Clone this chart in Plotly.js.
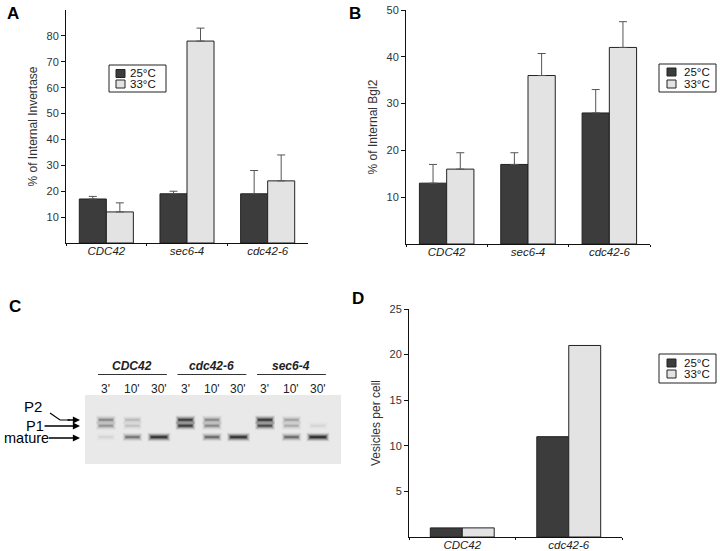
<!DOCTYPE html>
<html>
<head>
<meta charset="utf-8">
<script src="https://cdn.plot.ly/plotly-3.0.1.min.js"></script>
<style>html,body{margin:0;padding:0;background:#fff;}#chart{width:720px;height:551px;}</style>
</head>
<body>
<div id="chart"></div>
<script>
// ---------- DATA ----------
const tempLabels = ['25°C', '33°C'];

// Panel A: % of internal invertase
const aStrains = ['CDC42', 'sec6-4', 'cdc42-6'];
const aMean25 = [17, 19, 19];
const aErr25 = [1, 1, 9];
const aMean33 = [12, 78, 24];
const aErr33 = [3.5, 5, 10];
const aTicks = [10, 20, 30, 40, 50, 60, 70, 80];

// Panel B: % of internal Bgl2
const bStrains = ['CDC42', 'sec6-4', 'cdc42-6'];
const bMean25 = [13, 17, 28];
const bErr25 = [4, 2.5, 5];
const bMean33 = [16, 36, 42];
const bErr33 = [3.5, 4.7, 5.5];
const bTicks = [10, 20, 30, 40, 50];

// Panel D: vesicles per cell
const dStrains = ['CDC42', 'cdc42-6'];
const dMean25 = [1, 11];
const dMean33 = [1, 21];
const dTicks = [5, 10, 15, 20, 25];

// Panel C: gel (pulse-chase), lanes and band intensities (0..1)
const gelStrains = ['CDC42', 'cdc42-6', 'sec6-4'];
const laneTimes = ["3'", "10'", "30'", "3'", "10'", "30'", "3'", "10'", "30'"];
const bandNames = ['P2', 'P1', 'mature'];
const bandMigration = [0.36, 0.445, 0.61];   // relative position down the gel
const p2Intensity = [0.35, 0.15, 0.0, 0.80, 0.35, 0.0, 0.85, 0.25, 0.0];
const p1Intensity = [0.30, 0.12, 0.0, 0.80, 0.35, 0.0, 0.70, 0.20, 0.06];
const matureIntensity = [0.06, 0.45, 0.90, 0.0, 0.50, 0.90, 0.0, 0.50, 0.95];

// ---------- STYLE ----------
const FONT = 'Liberation Sans, Arial, Helvetica, sans-serif';
const DARK = '#3c3c3c';
const LIGHT = '#e3e3e3';
const W = 720, H = 551;
const px = x => x / W;
const py = y => 1 - y / H;

function barTrace(xs, ys, errs, color, xa, ya, name, groupWidth) {
  const t = {
    type: 'bar', x: xs, y: ys, name: name, xaxis: xa, yaxis: ya, showlegend: false,
    marker: {color: color, line: {color: '#222', width: 1}},
    width: groupWidth / 2, offset: color === DARK ? -groupWidth / 2 : 0,
    hoverinfo: 'x+y'
  };
  if (errs) {
    t.error_y = {type: 'data', symmetric: false, array: errs, arrayminus: errs.map(() => 0),
                 color: '#555', thickness: 1, width: 4};
  }
  return t;
}

const traces = [
  barTrace(aStrains, aMean25, aErr25, DARK, 'x', 'y', tempLabels[0], 0.67),
  barTrace(aStrains, aMean33, aErr33, LIGHT, 'x', 'y', tempLabels[1], 0.67),
  barTrace(bStrains, bMean25, bErr25, DARK, 'x2', 'y2', tempLabels[0], 0.67),
  barTrace(bStrains, bMean33, bErr33, LIGHT, 'x2', 'y2', tempLabels[1], 0.67),
  barTrace(dStrains, dMean25, null, DARK, 'x3', 'y3', tempLabels[0], 0.60),
  barTrace(dStrains, dMean33, null, LIGHT, 'x3', 'y3', tempLabels[1], 0.60)
];

// gel bands (soft edges built from stacked translucent strokes)
const intensities = [p2Intensity, p1Intensity, matureIntensity];
const blurLayers = [
  {w: 9, a: 0.05, h: 1.15}, {w: 7.5, a: 0.08, h: 1.08}, {w: 6, a: 0.12, h: 1.0},
  {w: 4.5, a: 0.18, h: 0.92}, {w: 3, a: 0.28, h: 0.85}, {w: 1.6, a: 0.40, h: 0.78}
];
intensities.forEach((arr, b) => {
  arr.forEach((v, lane) => {
    if (v <= 0) return;
    const half = b === 2 && laneTimes[lane] === "30'" ? 0.38 : 0.33;
    blurLayers.forEach(L => {
      traces.push({
        type: 'scatter', mode: 'lines', xaxis: 'x4', yaxis: 'y4', showlegend: false,
        hoverinfo: 'skip', name: bandNames[b],
        x: [lane - half * L.h, lane + half * L.h], y: [bandMigration[b], bandMigration[b]],
        line: {color: 'rgba(0,0,0,' + Math.min(1, v * L.a * 1.25).toFixed(3) + ')', width: L.w}
      });
    });
  });
});

function yAxis(domain, range, ticks, title, anchor) {
  return {
    domain: domain, range: range, tickvals: ticks, anchor: anchor, showgrid: false, zeroline: false,
    showline: true, linecolor: '#111', linewidth: 1, ticks: 'outside', ticklen: 4,
    tickcolor: '#111', tickfont: {family: FONT, size: 11, color: '#333'},
    title: {text: title, font: {family: FONT, size: 12, color: '#333'}, standoff: 6},
    fixedrange: true
  };
}
function xAxis(domain, n, anchor) {
  return {
    domain: domain, anchor: anchor, type: 'category', range: [-0.5, n - 0.5],
    showline: true, linecolor: '#111', linewidth: 1, ticks: 'outside', ticklen: 2,
    tickcolor: '#111', tickson: 'boundaries', showgrid: false, ticklabelstandoff: -3,
    tickfont: {family: FONT, size: 11.5, color: '#222', style: 'italic'}, fixedrange: true
  };
}

const shapes = [];
const annotations = [];
function note(o) {
  annotations.push(Object.assign({xref: 'paper', yref: 'paper', xanchor: 'center', yanchor: 'middle',
                                  showarrow: false}, o));
}

// manual legends
function legendBox(x0, y0, w, h, sx, tx, rows) {
  shapes.push({type: 'rect', xref: 'paper', yref: 'paper', x0: px(x0), x1: px(x0 + w),
               y0: py(y0 + h), y1: py(y0), line: {color: '#222', width: 1}, fillcolor: 'white'});
  const colors = [DARK, LIGHT];
  rows.forEach((ry, i) => {
    shapes.push({type: 'rect', xref: 'paper', yref: 'paper', x0: px(x0 + sx), x1: px(x0 + sx + 9),
                 y0: py(y0 + ry + 4), y1: py(y0 + ry - 4), line: {color: '#222', width: 1},
                 fillcolor: colors[i]});
    note({x: px(x0 + tx), y: py(y0 + ry), xanchor: 'left', text: tempLabels[i],
          font: {family: FONT, size: 11.5, color: '#111'}});
  });
}
legendBox(109, 65, 57, 27, 7, 19, [8.5, 19]);
legendBox(659, 64, 57, 28, 8, 23, [8, 20]);
legendBox(659, 354, 57, 29, 8, 23, [9, 20]);

// panel letters
[['A', 13, 13], ['B', 355, 13], ['C', 15, 306], ['D', 358, 298]].forEach(p => {
  note({x: px(p[1]), y: py(p[2]), text: '<b>' + p[0] + '</b>', font: {family: FONT, size: 17, color: '#000'}});
});

// gel background
shapes.push({type: 'rect', xref: 'x4 domain', yref: 'y4 domain', x0: 0, x1: 1, y0: 0, y1: 1,
             fillcolor: '#e9e9e9', line: {width: 0}, layer: 'below'});

// gel strain headers and lane times
gelStrains.forEach((s, g) => {
  const c = g * 3 + 1;
  note({xref: 'x4', x: c, y: py(366), text: '<b><i>' + s + '</i></b>', font: {family: FONT, size: 12, color: '#222'}});
  shapes.push({type: 'line', xref: 'x4', yref: 'paper', x0: c - 1.3, x1: c + 1.3,
               y0: py(374.5), y1: py(374.5), line: {color: '#333', width: 1}});
});
laneTimes.forEach((t, i) => {
  note({xref: 'x4', x: i, y: py(389), text: t, font: {family: FONT, size: 12, color: '#222'}});
});

// band labels with arrows
note({x: px(33), y: py(406), text: 'P2', font: {family: FONT, size: 15, color: '#000'}});
shapes.push({type: 'path', xref: 'paper', yref: 'paper',
             path: 'M' + px(50) + ',' + py(413) + ' L' + px(60) + ',' + py(420) + ' L' + px(70) + ',' + py(420),
             line: {color: '#000', width: 1.2}});
annotations.push({xref: 'paper', yref: 'paper', x: px(80), y: py(420), ax: -14, ay: 0, text: '',
                  showarrow: true, arrowhead: 2, arrowsize: 1.1, arrowwidth: 1.3, arrowcolor: '#000'});
annotations.push({xref: 'paper', yref: 'paper', x: px(80), y: py(426), ax: -45, ay: 0, text: 'P1',
                  showarrow: true, arrowhead: 2, arrowsize: 1.1, arrowwidth: 1.3, arrowcolor: '#000',
                  font: {family: FONT, size: 14.5, color: '#000'}, borderpad: 0});
annotations.push({xref: 'paper', yref: 'paper', x: px(80), y: py(438), ax: -54, ay: 0, text: 'mature',
                  showarrow: true, arrowhead: 2, arrowsize: 1.1, arrowwidth: 1.3, arrowcolor: '#000',
                  font: {family: FONT, size: 14.5, color: '#000'}, borderpad: 0});

const layout = {
  width: W, height: H, margin: {l: 0, r: 0, t: 0, b: 0},
  paper_bgcolor: '#fff', plot_bgcolor: 'rgba(0,0,0,0)',
  showlegend: false, barmode: 'group', bargroupgap: 0,
  font: {family: FONT, color: '#222'},
  xaxis: xAxis([px(66), px(308)], 3, 'y'),
  yaxis: yAxis([py(243), py(10)], [0, 90], aTicks, '% of Internal Invertase', 'x'),
  xaxis2: xAxis([px(406), px(650)], 3, 'y2'),
  yaxis2: yAxis([py(244), py(10)], [0, 50], bTicks, '% of Internal Bgl2', 'x2'),
  xaxis3: xAxis([px(409), px(622)], 2, 'y3'),
  yaxis3: yAxis([py(537), py(309)], [0, 25], dTicks, 'Vesicles per cell', 'x3'),
  xaxis4: {domain: [px(85), px(341)], anchor: 'y4', range: [-0.79, 8.87], visible: false, fixedrange: true},
  yaxis4: {domain: [py(464), py(395)], anchor: 'x4', range: [1, 0], visible: false, fixedrange: true},
  shapes: shapes, annotations: annotations
};

Plotly.newPlot('chart', traces, layout, {displayModeBar: false, staticPlot: true});
</script>
</body>
</html>
